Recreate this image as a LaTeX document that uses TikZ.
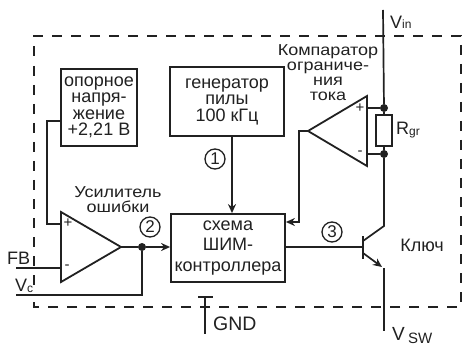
\documentclass[tikz,border=0pt]{standalone}
\usepackage{fontspec}
\setmainfont{Liberation Sans}
\newfontfamily\widefont[FakeStretch=1.14]{Liberation Sans}
\usetikzlibrary{arrows.meta}
\definecolor{ink}{gray}{0.13}
\newcommand{\fs}[2]{\fontsize{#1}{#2}\selectfont}
\tikzset{
  wire/.style={draw=ink,line width=1.7pt,line join=miter},
  frame/.style={draw=ink,line width=1.9pt,dash pattern=on 10pt off 9pt},
  block/.style={draw=ink,line width=1.8pt,inner sep=0pt,align=center,text=ink,font=\fs{18}{16.5}},
  lbl/.style={inner sep=0pt,align=center,text=ink,font=\fs{18}{15}},
  wlbl/.style={inner sep=0pt,align=center,text=ink,font=\widefont\fs{15.8}{15.2}},
  num/.style={circle,draw=ink,line width=1.3pt,inner sep=0pt,minimum size=20pt,text=ink,font=\fs{17}{17}},
  dotn/.style={circle,fill=ink,inner sep=0pt,minimum size=8pt},
  tip/.style={-{Stealth[length=9pt,width=8pt]}},
}
\begin{document}
\begin{tikzpicture}[x=1pt,y=-1pt]
\useasboundingbox (0,0) rectangle (462,347);
\fill[white] (0,0) rectangle (462,347);
% dashed frame
\draw[frame] (34,56) -- (34,36) -- (461,36) -- (461,307) -- (34,307) -- (34,295);
\draw[frame] (34,66) -- (34,285);
% blocks
\node[block,minimum width=76pt,minimum height=77pt] (ref) at (99,107.5) {опорное\\напря-\\жение\\+2,21 В};
\node[block,minimum width=114pt,minimum height=69pt] (gen) at (227,101.5) {генератор\\пилы\\100 кГц};
\node[block,minimum width=114pt,minimum height=68pt,font=\fs{18}{20.5}] (pwm) at (228,248) {схема\\ШИМ-\\контроллера};
% error amplifier
\coordinate (ampA) at (61,212); \coordinate (ampB) at (61,282); \coordinate (ampO) at (121,247);
\draw[wire,line width=1.8pt] (ampA) -- (ampO) -- (ampB) -- cycle;
\coordinate (ampP) at (61,224); \coordinate (ampM) at (61,268);
\node[lbl,font=\fs{15}{15}] (ampPs) at (68,223) {+};
\node[lbl,font=\fs{15}{15}] (ampMs) at (67,267) {-};
% comparator
\coordinate (cmpA) at (367,96); \coordinate (cmpB) at (367,166); \coordinate (cmpO) at (308,131);
\draw[wire,line width=1.8pt] (cmpA) -- (cmpO) -- (cmpB) -- cycle;
\coordinate (cmpP) at (367,108); \coordinate (cmpM) at (367,154);
\node[lbl,font=\fs{15}{15}] (cmpPs) at (360,108) {+};
\node[lbl,font=\fs{15}{15}] (cmpMs) at (360,153) {-};
% resistor
\node[draw=ink,line width=1.6pt,fill=white,minimum width=16pt,minimum height=31pt,inner sep=0pt] (rgr) at (384,130.5) {};
\node[dotn] (d1) at (384,108) {};
\node[dotn] (d2) at (384,154) {};
\node[dotn] (d3) at (142,247) {};
% free ends
\coordinate (vin) at (383,10);
\coordinate (fb) at (16,268);
\coordinate (vc) at (16,295);
\coordinate (vsw) at (384,331);
% wires
\draw[wire] (vin) -- (d1);
\draw[wire] (d1) -- (rgr.north);
\draw[wire] (rgr.south) -- (d2);
\draw[wire] (cmpP) -- (d1);
\draw[wire] (cmpM) -- (d2);
\draw[wire] (ref.west |- 0,121) -- (47,121) -- (47,224) -- (ampP);
\draw[wire] (fb) -- (ampM);
\draw[wire] (vc) -- (142,295) -- (d3);
\draw[wire] (ampO) -- (d3);
\draw[wire,tip] (d3) -- (pwm.west |- d3);
\draw[wire,tip] (gen.south -| 232,0) -- (pwm.north -| 232,0);
\draw[wire,tip] (cmpO) -- (299,131) -- (299,222) -- (pwm.east |- 0,222);
% transistor
\coordinate (base) at (363,247);
\draw[wire,line width=2.2pt] (363,236) -- (363,259);
\draw[wire] (pwm.east |- base) -- (base);
\draw[wire] (363,241) -- (384,226) -- (d2);
\draw[wire] (384,268) -- (vsw);
\draw[wire,tip] (363,253) -- (382,267);
% GND
\coordinate (gndT) at (205,297);
\coordinate (gndB) at (205,334);
\draw[wire] (198,297) -- (213,297);
\draw[wire] (gndT) -- (gndB);
% numbered circles
\node[num] (n1) at (215,159) {1};
\node[num] (n2) at (150,227) {2};
\node[num] (n3) at (332,232) {3};
% labels
\node[wlbl] (lamp) at (118,199.5) {Усилитель\\ошибки};
\node[wlbl] (lcmp) at (328,72.5) {Компаратор\\ограниче-\\ния\\тока};
\node[lbl,anchor=west,font=\fs{18}{18}] (lfb) at (7,258) {FB};
\node[lbl,anchor=west,font=\fs{18}{18}] (lvc) at (15,286) {V\raisebox{-1pt}{\fs{12}{12}c}};
\node[lbl,anchor=west,font=\fs{18}{18}] (lvin) at (390,22) {V\fs{12}{12}in};
\node[lbl,anchor=west,font=\fs{18}{18}] (lrgr) at (396,130) {R\raisebox{-1pt}{\fs{12}{12}gr}};
\node[lbl] (lkey) at (422,245) {Ключ};
\node[lbl,anchor=west,font=\fs{19.5}{19.5}] (lgnd) at (213,324) {GND};
\node[lbl,anchor=west,font=\fs{19}{19}] (lvsw) at (392,336) {V\,\raisebox{-3pt}{\fs{15}{15}SW}};
\end{tikzpicture}
\end{document}
